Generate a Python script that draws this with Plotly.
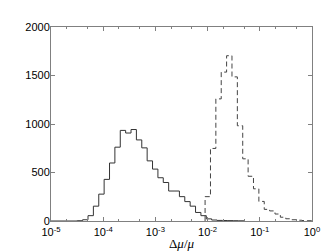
import plotly.graph_objects as go

# log10 bin edges and counts
solid_edges = [-4.497, -4.394, -4.291, -4.188, -4.085, -3.982, -3.879, -3.776, -3.673, -3.570,
               -3.467, -3.364, -3.261, -3.158, -3.055, -2.952, -2.849, -2.746, -2.643, -2.540,
               -2.437, -2.334, -2.231, -2.128, -2.025, -1.922, -1.819, -1.716, -1.613, -1.510,
               -1.407, -1.304]
solid_counts = [3, 13, 55, 153, 277, 429, 598, 761, 934, 907,
                943, 836, 754, 620, 535, 446, 397, 309, 309, 251,
                200, 153, 88, 55, 22, 10, 6, 5, 4, 3, 2]

dashed_edges = [-2.048, -1.945, -1.842, -1.739, -1.636, -1.533, -1.430, -1.327, -1.224, -1.121,
                -1.018, -0.915, -0.812, -0.709, -0.606, -0.503, -0.400, -0.297, -0.194, -0.091,
                0.012]
dashed_counts = [251, 748, 1259, 1535, 1704, 1486, 982, 641, 461, 332,
                 202, 120, 104, 72, 39, 23, 13, 8, 5, 3]

x_tickvals = [1e-5, 1e-4, 1e-3, 1e-2, 1e-1, 1e0]
x_ticktext = ["10<sup>-5</sup>", "10<sup>-4</sup>", "10<sup>-3</sup>", "10<sup>-2</sup>",
              "10<sup>-1</sup>", "10<sup>0</sup>"]
y_tickvals = [0, 500, 1000, 1500, 2000]


def steps(edges, counts):
    xs = [10 ** edges[0]] + [10 ** e for e in edges]
    ys = [0] + list(counts) + [0]
    return xs, ys


sx, sy = steps(solid_edges, solid_counts)
dx, dy = steps(dashed_edges, dashed_counts)

fig = go.Figure()
fig.add_trace(go.Scatter(x=[1e-5] + sx, y=[0] + sy, mode="lines", line_shape="hv",
                         line=dict(color="#333333", width=1), showlegend=False))
fig.add_trace(go.Scatter(x=dx, y=dy, mode="lines", line_shape="hv",
                         line=dict(color="#444444", width=1, dash="5px,3px"), showlegend=False))

axis_font = dict(family="Liberation Sans, Arial, sans-serif", size=11, color="#000000")
fig.update_layout(
    width=336, height=252,
    margin=dict(l=43, r=32, t=19, b=28),
    paper_bgcolor="white", plot_bgcolor="white",
    font=axis_font,
    xaxis=dict(type="log", range=[-5, 0], tickvals=x_tickvals, ticktext=x_ticktext,
               ticks="inside", ticklen=4, tickcolor="#808080", showgrid=False, zeroline=False,
               showline=True, linecolor="#808080", linewidth=1, mirror="ticks",
               minor=dict(ticks="inside", ticklen=2, tickcolor="#808080", showgrid=False),
               tickfont=axis_font, ticklabelstandoff=1,
               title=dict(text="Δ<i>μ</i>/<i>μ</i>", font=dict(family="Liberation Serif, serif", size=13),
                          standoff=1)),
    yaxis=dict(range=[0, 2000], tickvals=y_tickvals, ticks="inside", ticklen=4, tickcolor="#808080",
               showgrid=False, zeroline=False, showline=True, linecolor="#808080", linewidth=1,
               mirror="ticks", tickfont=axis_font, ticklabelstandoff=-2),
)
fig.write_html("out.html")
